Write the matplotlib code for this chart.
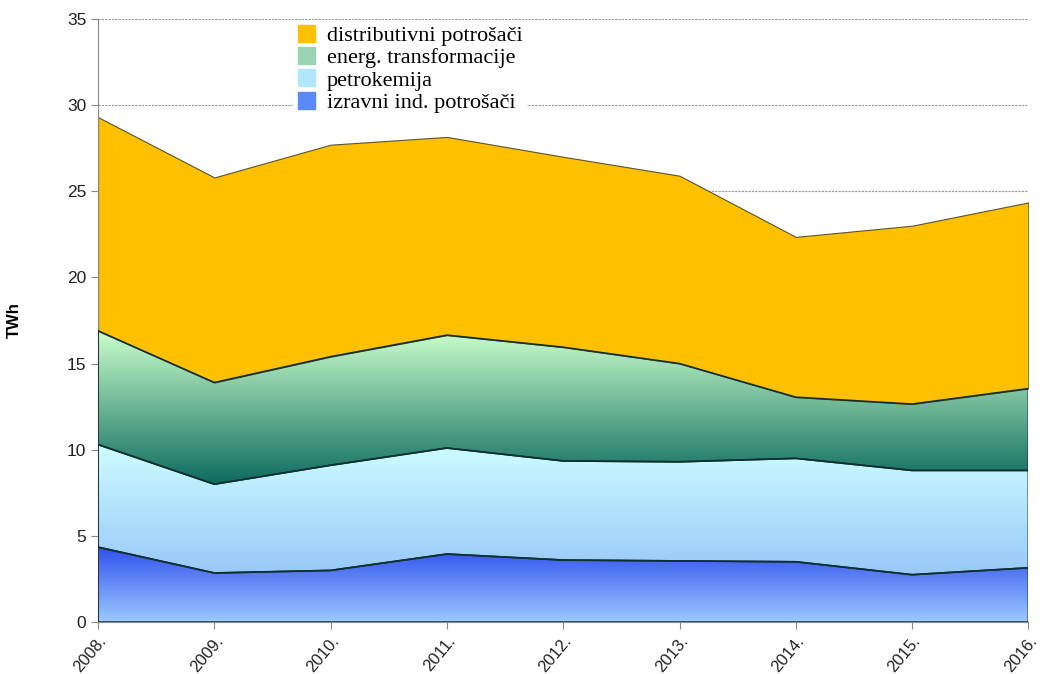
import matplotlib.pyplot as plt
import numpy as np
from matplotlib.colors import LinearSegmentedColormap
from matplotlib.patches import Patch

years = ["2008.", "2009.", "2010.", "2011.", "2012.", "2013.", "2014.", "2015.", "2016."]
# values per layer (TWh)
izravni = [4.35, 2.85, 3.0, 3.95, 3.6, 3.55, 3.5, 2.75, 3.15]
petrokemija = [5.95, 5.15, 6.1, 6.15, 5.75, 5.75, 6.0, 6.05, 5.65]
energ = [6.6, 5.9, 6.3, 6.55, 6.6, 5.7, 3.55, 3.85, 4.75]
distributivni = [12.4, 11.9, 12.3, 11.5, 11.05, 10.9, 9.3, 10.35, 10.8]

labels = ["izravni ind. potrošači", "petrokemija", "energ. transformacije", "distributivni potrošači"]

fig = plt.figure(figsize=(10.43, 6.74), dpi=100)
ax = fig.add_axes([0.094, 0.077, 0.892, 0.895])

x = np.arange(len(years))
layers = [izravni, petrokemija, energ, distributivni]
# gradient colours: (top, bottom)
grads = [("#3050ee", "#9ccaff"), ("#cdfdff", "#98c8f8"), ("#ccffcc", "#0d6b5e"), None]
solid = "#ffc000"

bottom = np.zeros(len(x))
for vals, g in zip(layers, grads):
    top = bottom + np.array(vals)
    if g is None:
        ax.fill_between(x, bottom, top, color=solid, lw=0.8, edgecolor="#555533", zorder=2)
    else:
        poly = ax.fill_between(x, bottom, top, facecolor="none", lw=1.2, edgecolor="#103030", zorder=3)
        cmap = LinearSegmentedColormap.from_list("g", [g[1], g[0]])
        grad = np.linspace(0, 1, 256).reshape(-1, 1)
        im = ax.imshow(grad, cmap=cmap, aspect="auto", origin="lower",
                       extent=[x[0], x[-1], bottom.min(), top.max()], zorder=2)
        im.set_clip_path(poly.get_paths()[0], transform=ax.transData)
    bottom = top

ax.set_xlim(x[0], x[-1])
ax.set_ylim(0, 35)
ax.set_yticks(np.arange(0, 36, 5))
ax.set_xticks(x)
ax.set_xticklabels(years, rotation=50, ha="right", rotation_mode="anchor", fontsize=12,
                   family="Liberation Sans", color="#222222")
for t in ax.get_yticklabels():
    t.set_fontsize(12.5)
    t.set_family("Liberation Sans")
    t.set_color("#222222")
ax.grid(axis="y", color="#999999", ls=(0, (2, 1)), lw=0.8, zorder=1)
ax.set_axisbelow(True)
for s in ["top", "right"]:
    ax.spines[s].set_visible(False)
for s in ["left", "bottom"]:
    ax.spines[s].set_color("#888888")
ax.tick_params(colors="#888888", labelcolor="#222222", length=5)
ax.tick_params(axis="x", pad=3)
ax.set_ylabel("TWh", fontsize=12, fontweight="bold", family="Liberation Sans", labelpad=32)

handles = [Patch(color=solid), Patch(color="#99d5b5"), Patch(color="#b0e6ff"), Patch(color="#5b8af8")]
leg = ax.legend(handles, labels[::-1], loc="upper left", bbox_to_anchor=(0.205, 1.005),
                prop={"family": "Liberation Serif", "size": 16}, frameon=True,
                handlelength=0.8, handleheight=0.8, handletextpad=0.5, labelspacing=0.05,
                borderpad=0.2, borderaxespad=0.2)
leg.get_frame().set_edgecolor("none")
leg.get_frame().set_facecolor("white")
leg.get_frame().set_alpha(1)
leg.set_zorder(5)

fig.savefig("out.png")
